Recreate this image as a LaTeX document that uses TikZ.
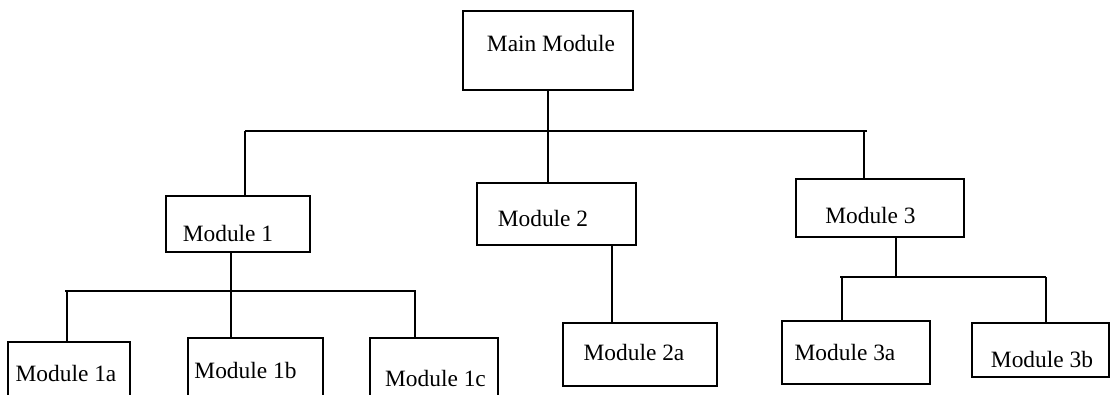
\documentclass[tikz,border=0pt]{standalone}
\usepackage{fontspec}
\setmainfont{Liberation Serif}
\usepackage{tikz}
\usetikzlibrary{calc}

\tikzset{
  modbox/.style={draw,inner sep=0pt},
}

\begin{document}
\begin{tikzpicture}[x=1pt,y=-1pt,line width=1.2pt,font=\fontsize{23.4}{28}\selectfont]
\useasboundingbox (0,0) rectangle (1110,395);

% Main module
\node[modbox,minimum width=170pt,minimum height=79pt,label={[xshift=3pt,yshift=7.5pt]center:Main Module}] (main) at (548,50.5) {};

% Second level
\node[modbox,minimum width=144pt,minimum height=56pt,label={[xshift=-10pt,yshift=-9pt]center:Module 1}] (m1) at (238,224) {};
\node[modbox,minimum width=159pt,minimum height=62pt,label={[xshift=-13.5pt,yshift=-4pt]center:Module 2}] (m2) at (556.5,214) {};
\node[modbox,minimum width=168pt,minimum height=58pt,label={[xshift=-9.5pt,yshift=-7pt]center:Module 3}] (m3) at (880,208) {};

% Third level
\node[modbox,minimum width=122pt,minimum height=68pt,label={[xshift=-3pt,yshift=3pt]center:Module 1a}] (m1a) at (69,376) {};
\node[modbox,minimum width=135pt,minimum height=72pt,label={[xshift=-10pt,yshift=4pt]center:Module 1b}] (m1b) at (255.5,374) {};
\node[modbox,minimum width=128pt,minimum height=72pt,label={[xshift=1.5pt,yshift=-4pt]center:Module 1c}] (m1c) at (434,374) {};
\node[modbox,minimum width=154pt,minimum height=63pt,label={[xshift=-6pt,yshift=2.5pt]center:Module 2a}] (m2a) at (640,354.5) {};
\node[modbox,minimum width=148pt,minimum height=63pt,label={[xshift=-11pt,yshift=0pt]center:Module 3a}] (m3a) at (856,352.5) {};
\node[modbox,minimum width=137pt,minimum height=54pt,label={[xshift=1.5pt,yshift=-9pt]center:Module 3b}] (m3b) at (1040.5,350) {};

% Top bus
\coordinate (j1) at (245,131);
\coordinate (j3) at (864,131);
\draw (j1) -- ($(j3)+(3,0)$);
\draw (main.south) -- (main.south |- j1);
\draw (j1) -- (j1 |- m1.north);
\draw (main.south |- j1) -- (main.south |- m2.north);
\draw (j3) -- (j3 |- m3.north);

% Under module 1
\coordinate (j1a) at (67,291);
\coordinate (j1b) at (231,291);
\coordinate (j1c) at (415,291);
\draw ($(j1a)+(-2,0)$) -- ($(j1c)+(1,0)$);
\draw (m1.south -| j1b) -- (j1b);
\draw (j1a) -- (j1a |- m1a.north);
\draw (j1b) -- (j1b |- m1b.north);
\draw (j1c) -- (j1c |- m1c.north);

% Under module 2
\coordinate (j2) at (612,284);
\draw (j2 |- m2.south) -- (j2 |- m2a.north);

% Under module 3
\coordinate (j3m) at (896,277);
\coordinate (j3a) at (842,277);
\coordinate (j3b) at (1046,277);
\draw ($(j3a)+(-2,0)$) -- (j3b);
\draw (m3.south -| j3m) -- (j3m);
\draw (j3a) -- (j3a |- m3a.north);
\draw (j3b) -- (j3b |- m3b.north);
\end{tikzpicture}
\end{document}
